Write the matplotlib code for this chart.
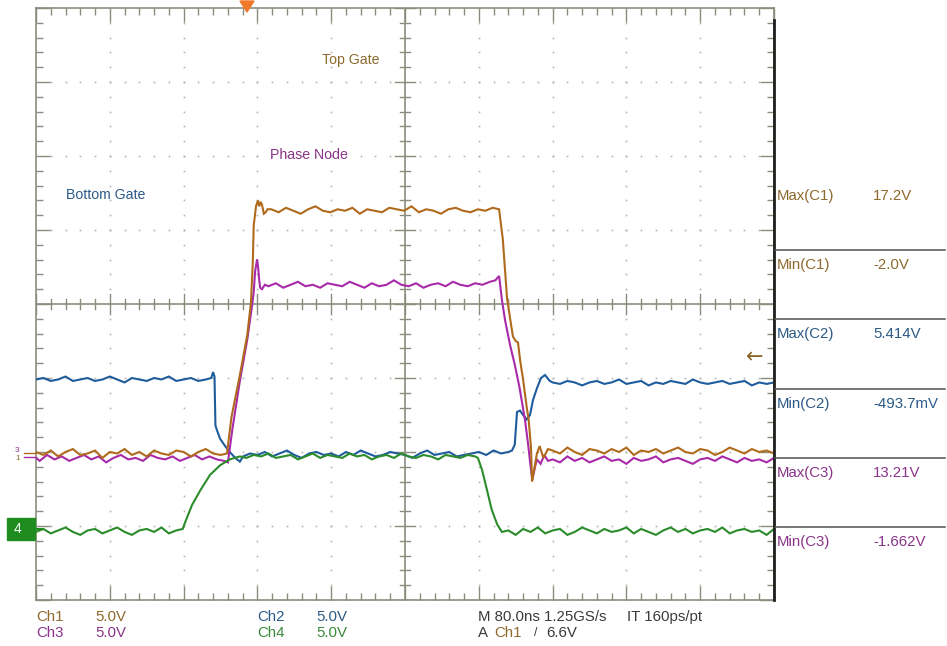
import numpy as np
import matplotlib
matplotlib.use("Agg")
import matplotlib.pyplot as plt
from matplotlib.patches import Polygon, Rectangle
from matplotlib.lines import Line2D

# ---------------- data (time in ns, amplitude in V) ----------------
top_gate = [  # Ch1
    (0,0.2),(8,0.0),(16,0.3),(24,-0.1),(32,0.2),(40,0.4),(48,0.0),(56,0.1),(64,0.3),(72,-0.2),
    (80,0.2),(88,0.1),(96,0.4),(104,0.0),(112,0.2),(120,-0.1),(128,0.3),(136,0.1),(144,0.0),(152,0.3),
    (160,0.2),(168,-0.1),(176,0.2),(184,0.4),(192,0.1),(200,0.0),(207,0.1),
    (212,2.6),(221,5.4),(229,8.1),(233,10.3),(235,13.0),(236,15.5),(238.5,16.8),(240.6,17.2),(242,16.8),
    (243.5,17.1),(245,16.9),(247,16.3),(249,16.4),(251,16.6),
    (255,16.6),(263,16.4),(271,16.7),(279,16.5),(287,16.3),(295,16.6),(303,16.8),(311,16.5),(319,16.4),
    (327,16.6),(335,16.5),(343,16.7),(351,16.3),(359,16.6),(367,16.5),(375,16.4),(383,16.7),(391,16.6),
    (399,16.5),(407,16.8),(415,16.4),(423,16.6),(431,16.5),(439,16.3),(447,16.6),(455,16.7),(463,16.5),
    (471,16.4),(479,16.6),(487,16.5),(495,16.7),(502,16.6),
    (506,14.6),(510.6,10.6),(514,9.2),(517,8.0),(520,7.7),(522.5,7.6),(525,6.3),(528,5.1),(532,3.2),
    (534,2.4),(536.6,0.5),(537.7,-1.8),(540,-1.0),(543,0.1),(546,0.6),(550,-0.2),(555,0.4),
    (560,0.3),(568,0.1),(576,0.5),(584,0.2),(592,0.0),(600,0.4),(608,0.3),(616,0.1),(624,0.4),(632,0.2),
    (640,0.5),(648,0.0),(656,0.3),(664,0.2),(672,0.4),(680,0.1),(688,0.3),(696,0.5),(704,0.2),(712,0.1),
    (720,0.4),(728,0.3),(736,0.0),(744,0.2),(752,0.5),(760,0.3),(768,0.1),(776,0.4),(784,0.2),(792,0.3),
    (800,0.1)]

bottom_gate = [  # Ch2
    (0,5.1),(8,5.2),(16,5.0),(24,5.1),(32,5.3),(40,5.0),(48,5.1),(56,5.2),(64,5.0),(72,5.1),(80,5.3),
    (88,5.1),(96,4.9),(104,5.2),(112,5.1),(120,5.0),(128,5.2),(136,5.1),(144,5.3),(152,5.0),(160,5.1),
    (168,5.2),(176,5.0),(184,5.1),(190,5.2),(192,5.6),(193.5,5.3),(194.5,2.0),(196,1.7),(199.5,1.1),
    (205,0.6),(210,0.2),(216,-0.2),(221,-0.45),(224.5,-0.1),(232,0.1),
    (240,0.0),(248,0.2),(256,-0.1),(264,0.1),(272,0.3),(280,0.0),(288,-0.2),(296,0.1),(304,0.2),(312,0.0),
    (320,0.1),(328,-0.1),(336,0.2),(344,0.0),(352,0.3),(360,0.1),(368,-0.1),(376,0.0),(384,0.2),(392,0.1),
    (400,0.0),(408,-0.2),(416,0.1),(424,0.3),(432,0.0),(440,0.1),(448,0.2),(456,-0.1),(464,0.0),(472,0.1),
    (480,0.2),(488,0.0),(496,0.3),(504,0.1),(512,0.2),
    (516,0.3),(519,0.7),(521.4,2.9),(524.7,3.0),(528,2.7),(532,2.4),(535.5,2.7),(538.7,3.7),(543,4.5),
    (547.4,5.2),(551.8,5.4),(557,5.0),
    (560,4.9),(568,4.8),(576,5.0),(584,4.9),(592,4.7),(600,4.9),(608,5.0),(616,4.8),(624,4.9),(632,5.1),
    (640,4.8),(648,4.9),(656,5.0),(664,4.7),(672,4.9),(680,4.8),(688,5.0),(696,4.9),(704,4.8),(712,5.1),
    (720,4.9),(728,4.8),(736,4.9),(744,5.0),(752,4.8),(760,4.9),(768,5.0),(776,4.7),(784,4.9),(792,4.8),
    (800,4.9)]

phase_node = [  # Ch3
    (0,-0.2),(4,-0.4),(12,0.0),(20,-0.3),(28,-0.1),(36,-0.4),(44,-0.2),(52,0.0),(60,-0.3),(68,-0.1),
    (76,-0.5),(84,-0.2),(92,0.0),(100,-0.3),(108,-0.2),(116,-0.4),(124,0.0),(132,-0.2),(140,-0.3),
    (148,-0.1),(156,-0.4),(164,-0.2),(172,0.0),(180,-0.3),(188,-0.1),(196,-0.3),(204,-0.4),
    (208,-0.5),(213,1.8),(221,5.0),(229,7.8),(234,10.0),(236,11.0),(237.5,12.4),(239.6,13.2),(240.6,12.8),
    (242,11.8),(243,11.3),(245,11.2),(248,11.5),
    (252,11.4),(260,11.6),(268,11.3),(276,11.5),(284,11.7),(292,11.4),(300,11.5),(308,11.3),(316,11.6),
    (324,11.5),(332,11.4),(340,11.7),(348,11.5),(356,11.3),(364,11.6),(372,11.4),(380,11.5),(388,11.8),
    (396,11.5),(404,11.4),(412,11.6),(420,11.3),(428,11.5),(436,11.6),(444,11.4),(452,11.7),(460,11.5),
    (468,11.4),(476,11.6),(484,11.5),(492,11.7),(498,11.8),(502,12.1),
    (505,10.5),(508.5,9.1),(514,7.4),(519,6.1),(524,4.6),(530,2.4),(533.5,0.7),(536,-0.7),(538,-1.66),
    (541,-0.8),(543,-0.3),(547,-0.6),(551,0.0),(555,-0.4),
    (560,-0.3),(568,-0.5),(576,-0.1),(584,-0.4),(592,-0.2),(600,-0.5),(608,-0.3),(616,-0.1),(624,-0.4),
    (632,-0.3),(640,-0.6),(648,-0.2),(656,-0.4),(664,-0.3),(672,-0.1),(680,-0.5),(688,-0.3),(696,-0.2),
    (704,-0.4),(712,-0.6),(720,-0.3),(728,-0.2),(736,-0.4),(744,-0.1),(752,-0.3),(760,-0.5),(768,-0.2),
    (776,-0.4),(784,-0.3),(792,-0.5),(800,-0.2)]

ch4_signal = [  # Ch4
    (0,0.0),(8,0.2),(16,-0.1),(24,0.1),(32,0.3),(40,0.0),(48,-0.2),(56,0.1),(64,0.2),(72,-0.1),(80,0.1),
    (88,0.3),(96,0.0),(104,-0.2),(112,0.1),(120,0.2),(128,0.0),(136,0.3),(144,-0.1),(152,0.1),(159,0.2),
    (162.6,0.8),(169,1.8),(178,2.8),(188.6,3.85),(199.5,4.5),(210,4.9),(221,5.1),
    (228,5.0),(236,5.2),(244,5.1),(252,5.3),(260,5.0),(268,5.1),(276,5.2),(284,4.9),(292,5.1),(300,5.3),
    (308,5.0),(316,5.2),(324,5.1),(332,5.0),(340,5.3),(348,5.1),(356,5.2),(364,4.9),(372,5.1),(380,5.2),
    (388,5.0),(396,5.3),(404,5.1),(412,5.0),(420,5.2),(428,5.1),(436,4.9),(444,5.2),(452,5.1),(460,5.0),
    (468,5.2),(476,5.1),
    (479,5.0),(483.5,4.2),(489,2.8),(494,1.5),(500,0.5),(505,0.0),
    (512,0.1),(520,-0.2),(528,0.2),(536,0.0),(544,0.3),(552,-0.1),(560,0.1),(568,0.2),(576,-0.2),(584,0.0),
    (592,0.3),(600,0.1),(608,-0.1),(616,0.2),(624,0.0),(632,0.1),(640,0.3),(648,-0.1),(656,0.2),(664,0.0),
    (672,-0.2),(680,0.1),(688,0.3),(696,0.0),(704,0.2),(712,-0.1),(720,0.1),(728,0.2),(736,0.0),(744,0.3),
    (752,-0.1),(760,0.1),(768,0.2),(776,0.0),(784,0.1),(792,-0.2),(800,0.2)]

# scope settings
time_per_div = 80.0        # ns/div
volts_per_div = 5.0        # V/div for all channels
ground_div_123 = -2.04     # ground position (divisions from centre) of Ch1-Ch3
ground_div_4 = -3.08       # ground position of Ch4

measurements = [("Max(C1)", "17.2V"), ("Min(C1)", "-2.0V"), ("Max(C2)", "5.414V"),
                ("Min(C2)", "-493.7mV"), ("Max(C3)", "13.21V"), ("Min(C3)", "-1.662V")]

# colours
C1 = "#B06A1C"; C2 = "#1F5C9C"; C3 = "#A82AA8"; C4 = "#2A8C2A"
T1 = "#8E6A2E"; T2 = "#2C5A86"; T3 = "#8A348A"; T4 = "#3C8A3C"
GRID = "#8C8C7E"

W, H = 947, 646
fig = plt.figure(figsize=(W/100, H/100), dpi=100)
fig.patch.set_facecolor("white")
L, R, T, B = 36, 774, 8, 600
fx = lambda x: x / W
fy = lambda y: 1 - y / H
pos = [fx(L), fy(B), fx(R) - fx(L), fy(T) - fy(B)]

narrow = ["Liberation Sans Narrow", "Liberation Sans", "DejaVu Sans"]
sans = ["Liberation Sans", "DejaVu Sans"]

# ---------- graticule (in divisions) ----------
g = fig.add_axes(pos)
g.set_xlim(-5, 5); g.set_ylim(-4, 4)
g.set_facecolor("white")
for s in g.spines.values():
    s.set_color(GRID); s.set_linewidth(1.2)
g.set_xticks(np.arange(-5, 6, 1)); g.set_yticks(np.arange(-4, 5, 1))
g.set_xticks(np.arange(-5, 5.01, 0.2), minor=True); g.set_yticks(np.arange(-4, 4.01, 0.2), minor=True)
g.tick_params(which="both", direction="in", top=True, right=True, labelbottom=False, labelleft=False,
              color=GRID, width=1)
g.tick_params(which="major", length=10)
g.tick_params(which="minor", length=5)
minor_x = np.arange(-5, 5.01, 0.2); minor_y = np.arange(-4, 4.01, 0.2)
for k in range(-4, 5):
    if k != 0:
        g.plot(np.full_like(minor_y, k), minor_y, ls="none", marker="s", ms=1.2, color="#B4B4B4", mew=0)
for k in range(-3, 4):
    if k != 0:
        g.plot(minor_x, np.full_like(minor_x, k), ls="none", marker="s", ms=1.2, color="#B4B4B4", mew=0)
g.axhline(0, color=GRID, lw=1.2); g.axvline(0, color=GRID, lw=1.2)
hx = 5 / 73.8; hy = 5 / 74.0
for xv in minor_x:
    big = abs(xv - round(xv)) < 1e-6
    g.plot([xv, xv], [-hy * (2 if big else 1), hy * (2 if big else 1)], color=GRID, lw=1)
for yv in minor_y:
    big = abs(yv - round(yv)) < 1e-6
    g.plot([-hx * (2 if big else 1), hx * (2 if big else 1)], [yv, yv], color=GRID, lw=1)

# ---------- traces ----------
ax = fig.add_axes(pos, frameon=False)
ax.set_xlim(0, 10 * time_per_div)
ax.set_ylim((-4 - ground_div_123) * volts_per_div, (4 - ground_div_123) * volts_per_div)
ax.axis("off")
ax4 = fig.add_axes(pos, frameon=False)
ax4.set_xlim(0, 10 * time_per_div)
ax4.set_ylim((-4 - ground_div_4) * volts_per_div, (4 - ground_div_4) * volts_per_div)
ax4.axis("off")

def draw(a, data, color, z):
    t = [p[0] for p in data]; v = [p[1] for p in data]
    a.plot(t, v, color=color, lw=1.5, zorder=z, solid_joinstyle="miter")

draw(ax, bottom_gate, C2, 2)
draw(ax4, ch4_signal, C4, 3)
draw(ax, phase_node, C3, 4)
draw(ax, top_gate, C1, 5)

# ---------- annotations ----------
fig.text(fx(322), fy(60), "Top Gate", color=T1, fontsize=10.2, family=sans, va="center")
fig.text(fx(270), fy(155), "Phase Node", color=T3, fontsize=10.2, family=sans, va="center")
fig.text(fx(66), fy(195), "Bottom Gate", color=T2, fontsize=10.2, family=sans, va="center")

fig.add_artist(Line2D([fx(774), fx(774)], [fy(20), fy(600)], color="#202020", lw=2))
mcol = [T1, T1, T2, T2, T3, T3]
fs = 10.8
for i, (name, val) in enumerate(measurements):
    y = 196 + i * 69.2
    fig.text(fx(777), fy(y), name, color=mcol[i], fontsize=fs, family=narrow, va="center")
    fig.text(fx(873), fy(y), val, color=mcol[i], fontsize=fs, family=narrow, va="center")
    if i > 0:
        ly = y - 15
        fig.add_artist(Line2D([fx(775), fx(945)], [fy(ly), fy(ly)], color="#505050", lw=1.1))

fig.text(fx(36), fy(617), "Ch1", color=T1, fontsize=fs, family=narrow, va="center")
fig.text(fx(95), fy(617), "5.0V", color=T1, fontsize=fs, family=narrow, va="center")
fig.text(fx(36), fy(633), "Ch3", color=T3, fontsize=fs, family=narrow, va="center")
fig.text(fx(95), fy(633), "5.0V", color=T3, fontsize=fs, family=narrow, va="center")
fig.text(fx(257), fy(617), "Ch2", color=T2, fontsize=fs, family=narrow, va="center")
fig.text(fx(316), fy(617), "5.0V", color=T2, fontsize=fs, family=narrow, va="center")
fig.text(fx(257), fy(633), "Ch4", color=T4, fontsize=fs, family=narrow, va="center")
fig.text(fx(316), fy(633), "5.0V", color=T4, fontsize=fs, family=narrow, va="center")
fig.text(fx(478), fy(617), "M 80.0ns 1.25GS/s", color="#3A3A3A", fontsize=fs, family=narrow, va="center")
fig.text(fx(627), fy(617), "IT 160ps/pt", color="#3A3A3A", fontsize=fs, family=narrow, va="center")
fig.text(fx(478), fy(633), "A", color="#3A3A3A", fontsize=fs, family=narrow, va="center")
fig.text(fx(494), fy(633), "Ch1", color=T1, fontsize=fs, family=narrow, va="center")
fig.text(fx(534), fy(633), "/", color="#3A3A3A", fontsize=fs - 2, family=narrow, va="center")
fig.text(fx(546), fy(633), "6.6V", color="#3A3A3A", fontsize=fs, family=narrow, va="center")

fig.add_artist(Polygon([[fx(240), fy(1)], [fx(254), fy(1)], [fx(247), fy(12)]], closed=True,
                       color="#F07828", transform=fig.transFigure))
fig.text(fx(746), fy(357), "\u2190", color="#8A6428", fontsize=15, family=["DejaVu Sans"], va="center")

fig.add_artist(Rectangle((fx(7), fy(540)), fx(35) - fx(7), fy(518) - fy(540), color="#1E8C1E",
                         transform=fig.transFigure))
fig.text(fx(14), fy(529), "4", color="white", fontsize=10, family=sans, va="center")
fig.add_artist(Line2D([fx(31), fx(42)], [fy(529), fy(529)], color="#1E8C1E", lw=1.5))
fig.text(fx(15), fy(450), "3", color=T3, fontsize=6, family=sans, va="center")
fig.text(fx(15), fy(459), "1", color=T1, fontsize=6, family=sans, va="center")
fig.add_artist(Line2D([fx(24), fx(36)], [fy(453), fy(453)], color=C1, lw=1))
fig.add_artist(Line2D([fx(24), fx(36)], [fy(457), fy(457)], color=C3, lw=1))

fig.savefig("out.png", dpi=100, facecolor="white")
